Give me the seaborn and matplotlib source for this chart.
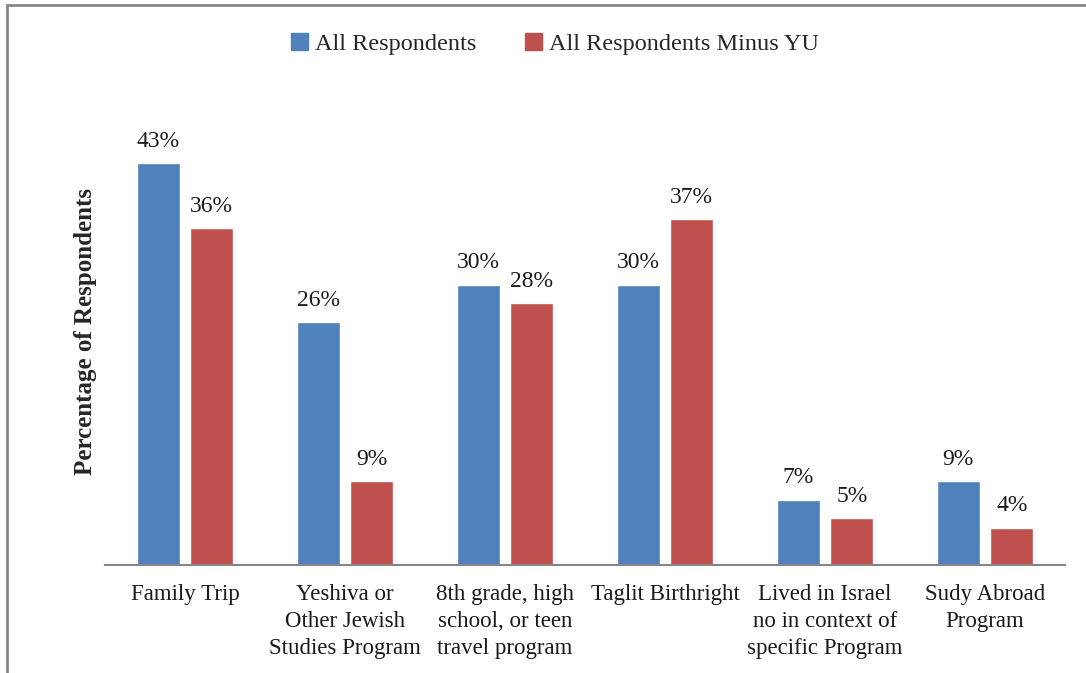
import pandas as pd
import matplotlib.pyplot as plt
import seaborn as sns
from matplotlib.patches import Rectangle, Patch

# Chart data
categories = ['Family Trip', 'Yeshiva or\nOther Jewish\nStudies Program',
              '8th grade, high\nschool, or teen\ntravel program', 'Taglit Birthright',
              'Lived in Israel\nno in context of\nspecific Program', 'Sudy Abroad\nProgram']
all_resp = [43, 26, 30, 30, 7, 9]
minus_yu = [36, 9, 28, 37, 5, 4]
series = ['All Respondents', 'All Respondents Minus YU']
colors = ['#4F81BD', '#C0504D']

df = pd.DataFrame({
    'category': categories * 2,
    'value': all_resp + minus_yu,
    'series': [series[0]] * len(categories) + [series[1]] * len(categories),
})

sns.set_style('white')
plt.rcParams['font.family'] = ['Liberation Serif', 'DejaVu Serif']

fig = plt.figure(figsize=(10.86, 6.73), dpi=100)
ax = fig.add_axes([0.0967, 0.1605, 0.884, 0.6946])

sns.barplot(data=df, x='category', y='value', hue='series', order=categories,
            hue_order=series, palette=colors, width=0.67, gap=0.2,
            saturation=1, legend=False, ax=ax)

for cont in ax.containers:
    ax.bar_label(cont, labels=[f'{v:.0f}%' for v in cont.datavalues],
                 padding=8, fontsize=17, color='#1a1a1a')

ax.set_ylim(0, 50)
ax.set_xlim(-0.5, len(categories) - 0.5)
ax.set_yticks([])
ax.set_xlabel('')
ax.set_ylabel('Percentage of Respondents', fontsize=18, fontweight='bold')
ax.yaxis.set_label_coords(-0.008, 0.5)
ax.tick_params(axis='x', length=0, labelsize=16.5, pad=14, colors='#1a1a1a')
for lab in ax.get_xticklabels():
    lab.set_linespacing(1.35)
for s in ['top', 'right', 'left']:
    ax.spines[s].set_visible(False)
ax.spines['bottom'].set_color('#868686')
ax.spines['bottom'].set_linewidth(1.5)

handles = [Patch(color=c) for c in colors]
fig.legend(handles, series, loc='center', bbox_to_anchor=(0.511, 0.935), ncol=2,
           frameon=False, fontsize=17.5, handlelength=0.7, handleheight=0.7,
           handletextpad=0.3, columnspacing=2.0)

# outer frame (cut off at right and bottom)
fig.patches.append(Rectangle((7 / 1086, -0.05), 1.1, 1 - 5 / 673 + 0.05,
                             transform=fig.transFigure, fill=False,
                             edgecolor='#868686', linewidth=2))

fig.savefig('out.png', dpi=100)
